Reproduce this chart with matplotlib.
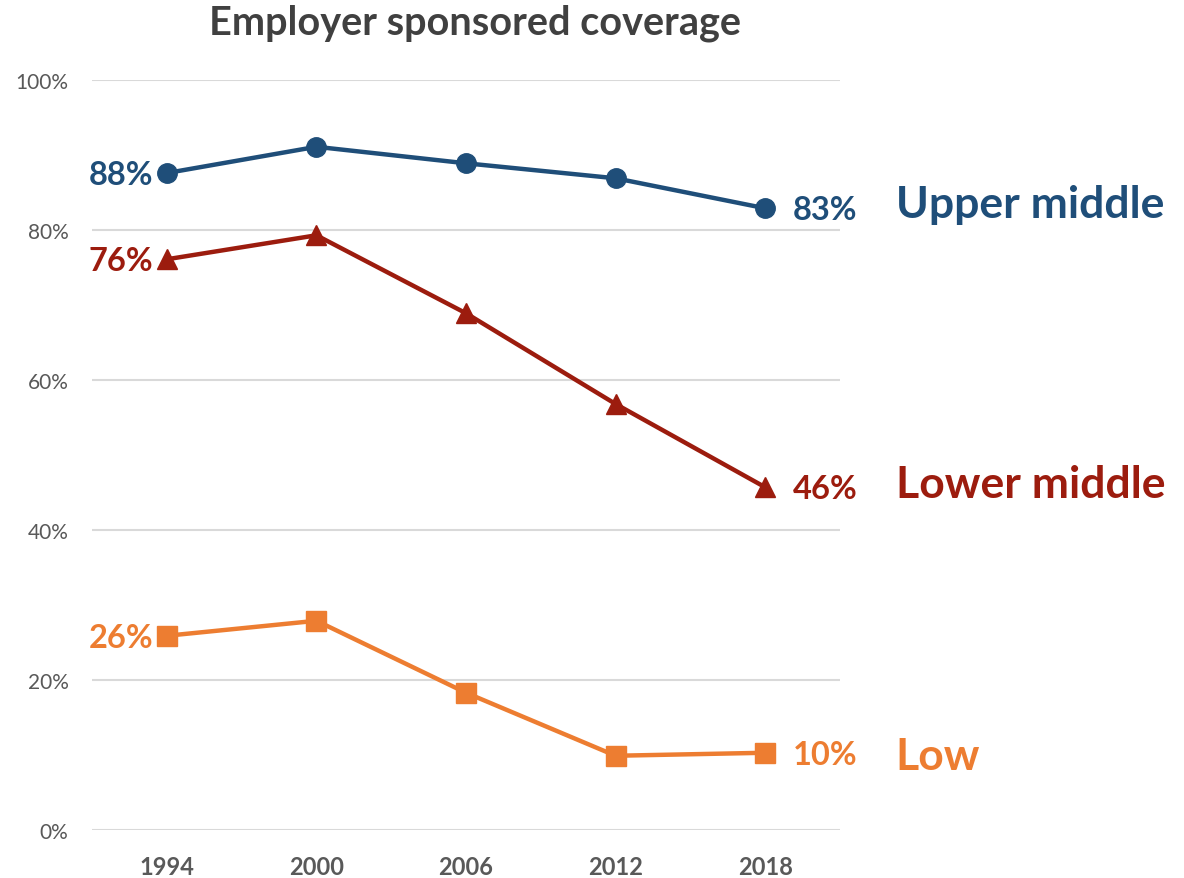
import numpy as np
import matplotlib.pyplot as plt

# Share of each income group with employer sponsored coverage (%)
years = ['1994', '2000', '2006', '2012', '2018']
upper_middle = [87.6, 91.1, 88.9, 86.9, 82.9]
lower_middle = [76.1, 79.3, 68.9, 56.8, 45.7]
low = [25.9, 27.9, 18.3, 9.9, 10.3]

series = [
    ('Upper middle', upper_middle, '#1F4E79', 'o'),
    ('Lower middle', lower_middle, '#9C1C0E', '^'),
    ('Low', low, '#ED7D31', 's'),
]
# vertical nudge (points) for the group names
name_dy = {'Upper middle': 3, 'Lower middle': 2, 'Low': -2}

plt.rcParams['font.family'] = ['Lato', 'DejaVu Sans']

fig = plt.figure(figsize=(11.84, 8.79), dpi=100)
ax = fig.add_axes([0.0777, 0.0546, 0.6318, 0.8532])

x = np.arange(len(years))
for name, vals, color, marker in series:
    ax.plot(x, vals, color=color, lw=3.2, marker=marker, markersize=14,
            zorder=3)
    # value labels at both ends of the line
    ax.annotate(f'{round(vals[0])}%', (x[0], vals[0]), xytext=(-10, -1),
                textcoords='offset points', ha='right', va='center',
                fontsize=23.5, fontweight='bold', color=color)
    ax.annotate(f'{round(vals[-1])}%', (x[-1], vals[-1]), xytext=(20, -1),
                textcoords='offset points', ha='left', va='center',
                fontsize=23.5, fontweight='bold', color=color)
    # group name to the right of the plot
    ax.annotate(name, (x[-1], vals[-1]), xytext=(94, name_dy[name]),
                textcoords='offset points', ha='left', va='center',
                fontsize=32, fontweight='bold', color=color,
                annotation_clip=False)

ax.set_xlim(-0.5, 4.5)
ax.set_ylim(0, 100)
ax.set_xticks(x)
ax.set_xticklabels(years, fontsize=17, fontweight='bold', color='#595959')
ax.set_yticks(np.arange(0, 101, 20))
ax.set_yticklabels([f'{v}%' for v in range(0, 101, 20)], fontsize=15,
                   color='#595959')
ax.tick_params(length=0)
ax.tick_params(axis='x', pad=18)
ax.tick_params(axis='y', pad=17)
ax.grid(axis='y', color='#D9D9D9', lw=1.5)
ax.set_axisbelow(True)
for s in ax.spines.values():
    s.set_visible(False)

fig.text(0.401, 0.973, 'Employer sponsored coverage', ha='center',
         va='center', fontsize=28.5, fontweight='bold', color='#404040')

fig.savefig('out.png', dpi=100)
